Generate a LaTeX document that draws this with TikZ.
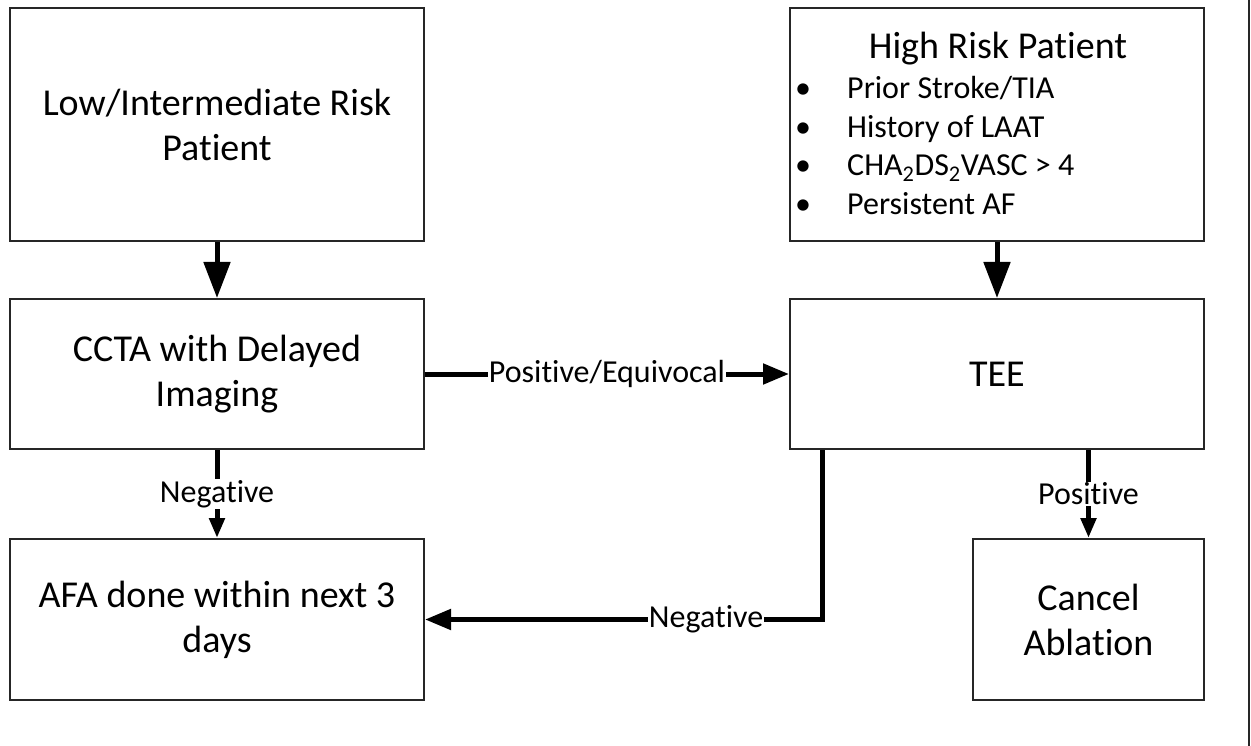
\documentclass[tikz,border=0pt]{standalone}
\usepackage{fontspec}
\setmainfont{Carlito}[Ligatures=CommonOff]
\usetikzlibrary{arrows.meta,calc}
\begin{document}
\begin{tikzpicture}[x=1pt,y=-1pt,
  box/.style={draw=black!85,line width=2pt,align=center,inner sep=0pt,font=\fontsize{38}{45}\selectfont},
  item/.style={anchor=base west,inner sep=0pt,font=\fontsize{32}{38}\selectfont},
  bul/.style={anchor=base,inner sep=0pt,font=\fontsize{32}{38}\selectfont},
  conn/.style={line width=5pt},
  bighead/.style={-{Triangle[length=36pt,width=26pt]}},
  midhead/.style={-{Triangle[length=26pt,width=20pt]}},
  smallhead/.style={-{Triangle[length=20pt,width=15pt]}},
  lbl/.style={fill=white,inner sep=1pt,font=\fontsize{32}{38}\selectfont}]
\useasboundingbox (0,0) rectangle (1251,746);
\fill[white] (0,0) rectangle (1251,746);
\node[box,minimum width=414pt,minimum height=233pt] (low) at (217,124.5) {Low/Intermediate Risk\\Patient};
\node[box,minimum width=414pt,minimum height=150pt] (ccta) at (217,374) {CCTA with Delayed\\Imaging};
\node[box,minimum width=414pt,minimum height=161pt] (afa) at (217,619.5) {AFA done within next 3\\days};
\node[box,minimum width=414pt,minimum height=233pt] (high) at (997,124.5) {};
\node[anchor=base,inner sep=0pt,font=\fontsize{38}{45}\selectfont] (hrt) at (998,59) {High Risk Patient};
\node[bul] (b1) at (803,99) {\textbullet};
\node[bul] (b2) at (803,137.5) {\textbullet};
\node[bul] (b3) at (803,176) {\textbullet};
\node[bul] (b4) at (803,214.5) {\textbullet};
\node[item] (i1) at (847,99) {Prior Stroke/TIA};
\node[item] (i2) at (847,137.5) {History of LAAT};
\node[item] (i3) at (847,176) {CHA\textsubscript{2}DS\textsubscript{2}VASC > 4};
\node[item] (i4) at (847,214.5) {Persistent AF};
\node[box,minimum width=414pt,minimum height=150pt] (tee) at (997,374) {TEE};
\node[box,minimum width=231pt,minimum height=161pt] (cancel) at (1088.5,619.5) {Cancel\\Ablation};
\coordinate (rtop) at (1249,0);
\coordinate (rbot) at (1249,746);
\draw[line width=2pt,black!85] (rtop) -- (rbot);
\draw[conn,bighead] (low.south) -- (ccta.north);
\draw[conn,bighead] (high.south) -- (tee.north);
\draw[conn,midhead] (ccta.east) -- node[lbl] {Positive/Equivocal} (tee.west);
\draw[conn,smallhead] (ccta.south) -- node[lbl] {Negative} (afa.north);
\draw[conn,smallhead] (cancel.north |- tee.south) -- node[lbl] {Positive} (cancel.north);
\coordinate (turn) at (822,619);
\draw[conn,midhead] (tee.south -| turn) |- node[lbl,pos=0.646] {Negative} (afa.east);
\end{tikzpicture}
\end{document}
